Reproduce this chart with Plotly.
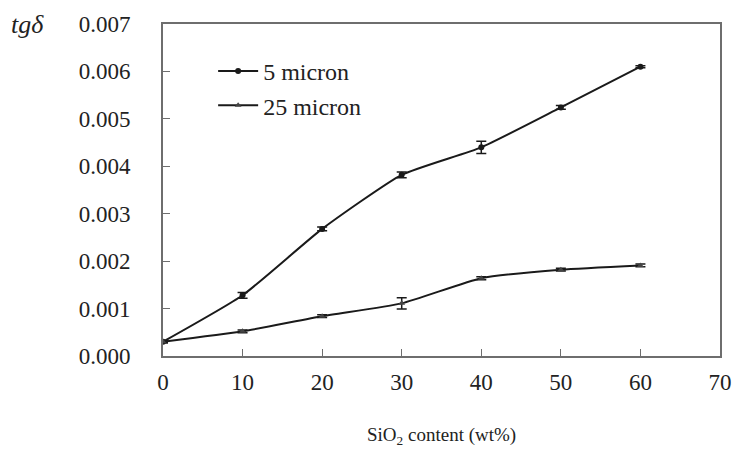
import plotly.graph_objects as go

x_vals = [0, 10, 20, 30, 40, 50, 60]
y_5 = [0.00030, 0.00128, 0.00268, 0.00382, 0.00440, 0.00524, 0.00610]
err_5 = [0.00002, 0.00006, 0.00004, 0.00006, 0.00013, 0.00004, 0.00002]
y_25 = [0.00030, 0.00052, 0.00084, 0.00111, 0.00164, 0.00182, 0.00191]
err_25 = [0.00002, 0.00003, 0.00003, 0.00012, 0.00003, 0.00003, 0.00003]
names = ["5 micron", "25 micron"]
x_ticks = [0, 10, 20, 30, 40, 50, 60, 70]
y_ticks = [0.000, 0.001, 0.002, 0.003, 0.004, 0.005, 0.006, 0.007]

LINE = "#1a1a1a"
AX = "#6e6e6e"
FONT = "Liberation Serif"

fig = go.Figure()
fig.add_trace(go.Scatter(
    x=x_vals, y=y_5, name=names[0], mode="lines+markers",
    line=dict(color=LINE, width=2, shape="spline", smoothing=0.5),
    marker=dict(symbol="circle", size=6, color=LINE),
    error_y=dict(type="data", array=err_5, color=LINE, thickness=1.5, width=5),
    legendgroup="a",
))
fig.add_trace(go.Scatter(
    x=x_vals, y=y_25, name=names[1], mode="lines+markers",
    line=dict(color=LINE, width=2, shape="spline", smoothing=0.5),
    marker=dict(symbol="triangle-up", size=6, color="#444"),
    error_y=dict(type="data", array=err_25, color=LINE, thickness=1.5, width=5),
    legendgroup="b",
))

fig.update_layout(
    width=744, height=461,
    margin=dict(l=163, r=16, t=21, b=105),
    paper_bgcolor="white", plot_bgcolor="white",
    font=dict(family=FONT, size=23, color="#222"),
    showlegend=True,
    legend=dict(x=0.09, y=0.925, xanchor="left", yanchor="top",
                bgcolor="rgba(0,0,0,0)", font=dict(size=24, family=FONT),
                tracegroupgap=0, itemwidth=40),
    xaxis=dict(range=[0, 70], tickvals=x_ticks, ticks="inside", ticklen=7,
               tickcolor=AX, showline=True, linecolor=AX, linewidth=2,
               mirror=True, showgrid=False, zeroline=False,
               ticklabelstandoff=4),
    yaxis=dict(range=[0, 0.007], tickvals=y_ticks, tickformat=".3f",
               ticks="inside", ticklen=7, tickcolor=AX, showline=True,
               linecolor=AX, linewidth=2, mirror=True, showgrid=False,
               zeroline=False, ticklabelstandoff=26),
    annotations=[
        dict(text="<i>tgδ</i>", xref="paper", yref="paper",
             x=-0.276, y=1.0, xanchor="left", yanchor="middle",
             showarrow=False, font=dict(size=26, family=FONT)),
        dict(text="SiO<sub>2</sub> content (wt%)", xref="paper", yref="paper",
             x=0.5, y=-0.242, xanchor="center", yanchor="middle",
             showarrow=False, font=dict(size=19, family=FONT)),
    ],
)
fig.write_html("out.html")
